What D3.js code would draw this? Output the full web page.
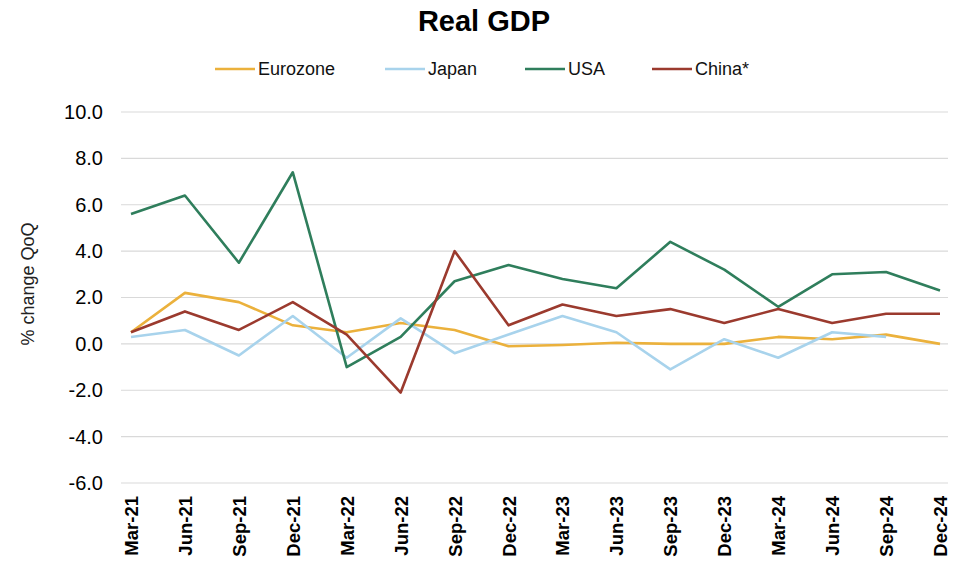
<!DOCTYPE html>
<html><head><meta charset="utf-8">
<script src="https://cdn.jsdelivr.net/npm/d3@7"></script>
<style>body{margin:0;background:#fff;} svg{display:block;font-family:"Liberation Sans",Arial,sans-serif;}</style>
</head><body>
<svg id="c" width="961" height="567"></svg>
<script>
const categories = ["Mar-21","Jun-21","Sep-21","Dec-21","Mar-22","Jun-22","Sep-22","Dec-22","Mar-23","Jun-23","Sep-23","Dec-23","Mar-24","Jun-24","Sep-24","Dec-24"];
const eurozone = [0.5,2.2,1.8,0.8,0.5,0.9,0.6,-0.1,-0.05,0.05,0.0,0.0,0.3,0.2,0.4,0.0];
const japan    = [0.3,0.6,-0.5,1.2,-0.6,1.1,-0.4,0.4,1.2,0.5,-1.1,0.2,-0.6,0.5,0.3,null];
const usa      = [5.6,6.4,3.5,7.4,-1.0,0.3,2.7,3.4,2.8,2.4,4.4,3.2,1.6,3.0,3.1,2.3];
const china    = [0.5,1.4,0.6,1.8,0.4,-2.1,4.0,0.8,1.7,1.2,1.5,0.9,1.5,0.9,1.3,1.3];
const yTicks = [-6,-4,-2,0,2,4,6,8,10];
const seriesNames = ["Eurozone","Japan","USA","China*"];
const seriesColors = ["#EBB13C","#A8D3EC","#2F7E5C","#9B3A2E"];
const seriesData = [eurozone, japan, usa, china];

const svg = d3.select("#c");
const plotL = 121, plotR = 948, plotT = 112, plotB = 483;
const x = d3.scalePoint().domain(categories).range([131, 940]);
const y = d3.scaleLinear().domain([-6, 10]).range([plotB, plotT]);

// title
svg.append("text").attr("x", 484).attr("y", 31).attr("text-anchor","middle")
  .attr("font-size", 29).attr("font-weight","bold").attr("fill","#000").text("Real GDP");

// gridlines
svg.append("g").selectAll("line").data(yTicks).join("line")
  .attr("x1", plotL).attr("x2", plotR)
  .attr("y1", d => y(d)).attr("y2", d => y(d))
  .attr("stroke", "#d9d9d9").attr("stroke-width", 1.2);

// y axis labels
const fmt = d => d.toFixed(1);
const yAxis = d3.axisLeft(y).tickValues(yTicks).tickFormat(fmt).tickSize(0).tickPadding(0);
const gy = svg.append("g").attr("transform", `translate(103,0)`).call(yAxis);
gy.select(".domain").remove();
gy.selectAll("text").attr("font-size", 20).attr("fill", "#000").attr("font-family","'Liberation Sans',Arial,sans-serif");

// y axis title
svg.append("text").attr("transform", "translate(34,284) rotate(-90)").attr("text-anchor","middle")
  .attr("font-size", 18).attr("fill","#222").text("% change QoQ");

// x axis labels
const xAxis = d3.axisBottom(x).tickSize(0).tickPadding(0);
const gx = svg.append("g").attr("transform", `translate(0,${plotB})`).call(xAxis);
gx.select(".domain").remove();
gx.selectAll("text")
  .attr("transform", "rotate(-90)")
  .attr("text-anchor", "end").attr("x", -13).attr("y", 0).attr("dy", "0.35em")
  .attr("font-size", 18.5).attr("font-weight","bold").attr("fill","#000")
  .attr("font-family","'Liberation Sans',Arial,sans-serif");

// lines
const line = d3.line().defined(d => d.v !== null).x(d => x(d.c)).y(d => y(d.v));
seriesData.forEach((s, i) => {
  svg.append("path")
    .datum(categories.map((c, j) => ({c, v: s[j]})))
    .attr("d", line).attr("fill","none")
    .attr("stroke", seriesColors[i]).attr("stroke-width", 2.6)
    .attr("stroke-linejoin","round");
});

// legend
const legendX = [215, 385, 525, 652];
const lg = svg.append("g");
seriesNames.forEach((n, i) => {
  lg.append("line").attr("x1", legendX[i]).attr("x2", legendX[i] + 40)
    .attr("y1", 69).attr("y2", 69).attr("stroke", seriesColors[i]).attr("stroke-width", 2.6);
  lg.append("text").attr("x", legendX[i] + 43).attr("y", 75)
    .attr("font-size", 18).attr("fill","#111").text(n);
});
</script>
</body></html>
